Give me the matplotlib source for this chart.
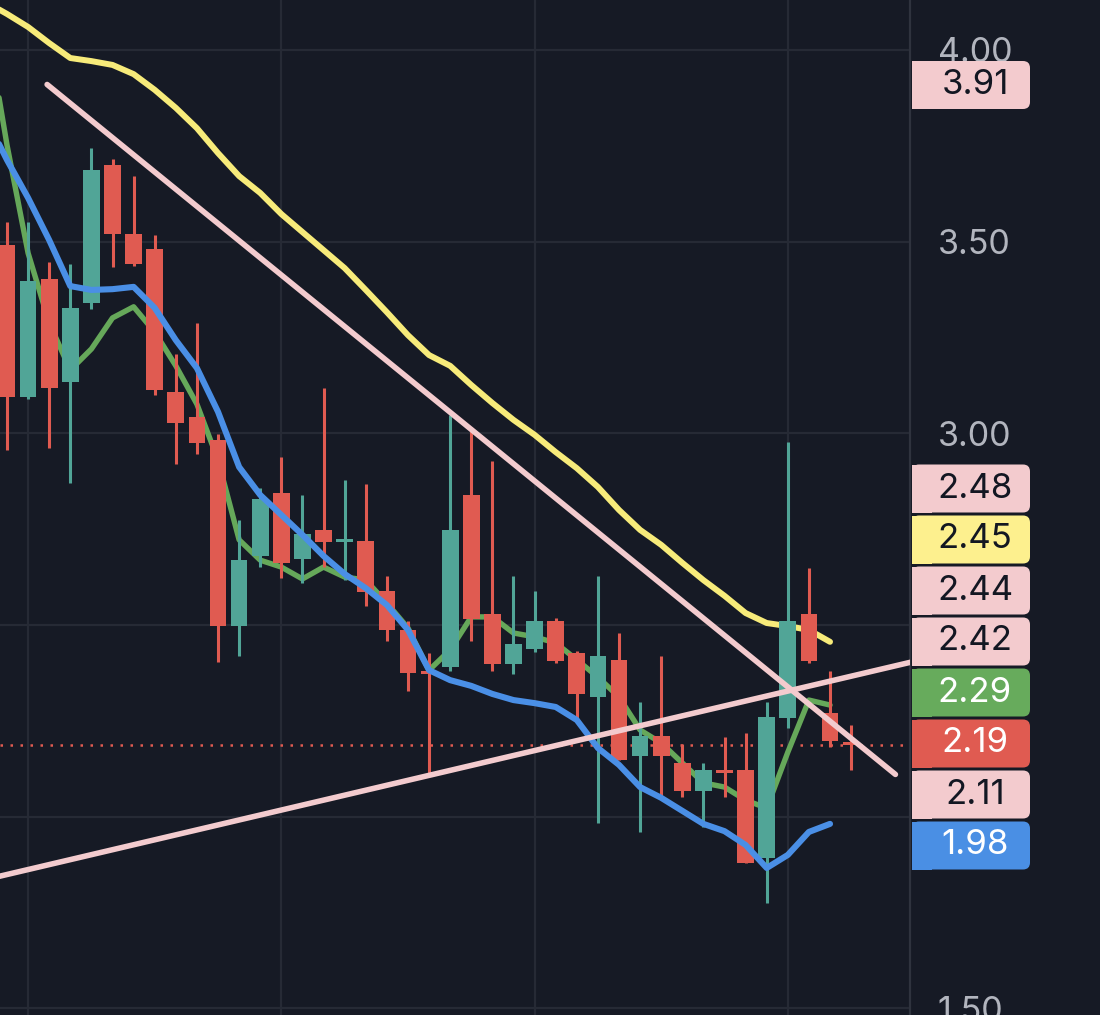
import matplotlib
matplotlib.use('Agg')
import matplotlib.pyplot as plt
from matplotlib.patches import FancyBboxPatch, Rectangle
import numpy as np

# Nến: mở, cao, thấp, đóng
o = [3.491, 3.095, 3.402, 3.134, 3.340, 3.700, 3.520, 3.481, 3.108, 3.042,
     2.983, 2.497, 2.680, 2.844, 2.672, 2.748, 2.716, 2.719, 2.589, 2.487,
     2.377, 2.390, 2.839, 2.529, 2.398, 2.437, 2.510, 2.427, 2.312, 2.408,
     2.158, 2.210, 2.140, 2.067, 2.119, 2.122, 1.892, 2.257, 2.529, 2.270,
     2.193]
h = [3.551, 3.551, 3.447, 3.442, 3.744, 3.716, 3.671, 3.517, 3.207, 3.288,
     2.998, 2.774, 2.857, 2.938, 2.839, 3.118, 2.878, 2.868, 2.628, 2.510,
     2.427, 3.048, 3.016, 2.928, 2.628, 2.589, 2.518, 2.432, 2.628, 2.479,
     2.299, 2.419, 2.189, 2.140, 2.208, 2.218, 2.299, 2.977, 2.649, 2.380,
     2.239]
l = [2.956, 3.089, 2.962, 2.870, 3.324, 3.434, 3.436, 3.100, 2.920, 2.946,
     2.403, 2.419, 2.651, 2.622, 2.609, 2.651, 2.617, 2.549, 2.458, 2.328,
     2.106, 2.380, 2.458, 2.380, 2.372, 2.429, 2.401, 2.255, 1.983, 2.148,
     1.960, 2.054, 2.051, 1.973, 2.051, 1.879, 1.775, 2.231, 2.401, 2.182,
     2.122]
c = [3.095, 3.397, 3.118, 3.327, 3.687, 3.520, 3.442, 3.113, 3.027, 2.975,
     2.497, 2.669, 2.829, 2.662, 2.737, 2.716, 2.722, 2.586, 2.487, 2.375,
     2.372, 2.748, 2.516, 2.398, 2.450, 2.510, 2.406, 2.320, 2.419, 2.148,
     2.210, 2.158, 2.067, 2.122, 2.114, 1.879, 2.260, 2.510, 2.406, 2.197,
     2.188]

# Các đường trung bình (từ nến -1 đến nến 39)
ma_vang = [4.125, 4.094, 4.060, 4.018, 3.979, 3.971, 3.961, 3.937, 3.896, 3.849,
           3.796, 3.731, 3.671, 3.627, 3.572, 3.525, 3.478, 3.431, 3.374, 3.316,
           3.256, 3.204, 3.176, 3.126, 3.079, 3.035, 2.996, 2.951, 2.909, 2.860,
           2.800, 2.748, 2.709, 2.662, 2.617, 2.576, 2.531, 2.505, 2.497, 2.487,
           2.456]
ma_xanh = [3.823, 3.713, 3.614, 3.504, 3.384, 3.374, 3.376, 3.382, 3.327, 3.243,
           3.170, 3.056, 2.912, 2.839, 2.787, 2.735, 2.680, 2.633, 2.596, 2.552,
           2.487, 2.382, 2.356, 2.341, 2.320, 2.304, 2.296, 2.286, 2.252, 2.179,
           2.135, 2.077, 2.049, 2.015, 1.981, 1.962, 1.926, 1.866, 1.900, 1.960,
           1.981]
ma_luc = [4.078, 3.752, 3.470, 3.288, 3.165, 3.220, 3.301, 3.330, 3.264, 3.176,
          3.076, 2.930, 2.722, 2.669, 2.651, 2.620, 2.651, 2.625, 2.617, 2.557,
          2.492, 2.382, 2.435, 2.521, 2.521, 2.479, 2.469, 2.453, 2.409, 2.364,
          2.312, 2.226, 2.192, 2.140, 2.088, 2.077, 2.043, 2.022, 2.168, 2.304,
          2.291]

# Đường xu hướng: (vị trí nến, giá)
xu_huong_giam = [(1.9, 3.91), (42.1, 2.11)]
xu_huong_tang = [(-1.0, 1.836), (44.0, 2.418)]

# Nhãn trục giá (2.50 và 2.00 bị nhãn màu che)
gia_truc = [1.5, 2.0, 2.5, 3.0, 3.5, 4.0]
nhan_truc = ['1.50', '', '', '3.00', '3.50', '4.00']

# Nhãn giá bên phải
nhan = ['3.91', '2.48', '2.45', '2.44', '2.42', '2.29', '2.19', '2.11', '1.98']
nhan_y = [85, 488.5, 539.5, 590.5, 641.5, 692.5, 743.5, 794.5, 845.5]

# Màu
nen = '#161a25'
luoi = '#262a35'
tang = '#51a597'
giam = '#e05b51'
vang = '#f7eb7a'
xanh = '#4a8fe6'
luc = '#66a85a'
hong = '#f3cbce'
nhan_nen = [hong, hong, '#fdf08e', hong, hong, '#67ab5c', '#e05b51', hong, '#4a8fe4']
nhan_chu = ['#131722'] * 5 + ['white', 'white', '#131722', 'white']

plt.rcParams['font.family'] = ['Inter', 'DejaVu Sans']

fig = plt.figure(figsize=(11, 10.15), dpi=100, facecolor=nen)
ax = fig.add_axes([0, 0, 910 / 1100, 1])
ax.set_facecolor(nen)

x = np.arange(len(o))
o = np.array(o); c = np.array(c); h = np.array(h); l = np.array(l)
mau = np.where(c >= o, tang, giam)

# Đường trung bình dưới nến
xm = np.arange(-1, len(ma_vang) - 1)
ax.plot(xm, ma_vang, color=vang, lw=4.3, zorder=2, solid_capstyle='round')
ax.plot(xm, ma_luc, color=luc, lw=3.9, zorder=2, solid_capstyle='round')

# Vẽ nến
ax.vlines(x, l, h, colors=mau, lw=2.2, zorder=3)
than = np.maximum(np.abs(c - o), 0.007)
ax.bar(x, than, bottom=np.minimum(o, c), width=0.79, color=mau, zorder=3)

ax.plot(xm, ma_xanh, color=xanh, lw=4.4, zorder=4, solid_capstyle='round')

# Đường xu hướng
ax.plot(*zip(*xu_huong_giam), color=hong, lw=4, zorder=5, solid_capstyle='round')
ax.plot(*zip(*xu_huong_tang), color=hong, lw=4, zorder=5)

# Đường giá hiện tại
ax.axhline(c[-1], color=giam, lw=1.8, ls=(0, (1, 3)), zorder=1)

ax.set_xlim(-0.332, 42.79)
ax.set_ylim(1.4824, 4.1304)

# Lưới
ax.set_xticks([1, 13, 25, 37])
ax.set_yticks(gia_truc)
ax.set_yticklabels(nhan_truc)
ax.grid(True, color=luoi, lw=1.6, zorder=0)
ax.set_axisbelow(True)
ax.yaxis.tick_right()
ax.tick_params(axis='x', length=0, labelbottom=False)
ax.tick_params(axis='y', length=0, pad=20, labelsize=24.5, labelcolor='#b2b5be')
for s in ['top', 'bottom', 'left']:
    ax.spines[s].set_visible(False)
ax.spines['right'].set_color('#2f333e')
ax.spines['right'].set_linewidth(1.6)

# Lớp phủ để vẽ nhãn theo pixel
ov = fig.add_axes([0, 0, 1, 1])
ov.set_xlim(0, 1100)
ov.set_ylim(1015, 0)
ov.axis('off')
ov.patch.set_visible(False)
for t, yc, bg, fg in zip(nhan, nhan_y, nhan_nen, nhan_chu):
    ov.add_patch(FancyBboxPatch((912, yc - 24), 118, 48,
                                boxstyle='round,pad=0,rounding_size=7',
                                fc=bg, ec='none'))
    ov.add_patch(Rectangle((912, yc - 24), 20, 48, fc=bg, ec='none'))
    ov.text(975, yc, t, color=fg, fontsize=25, ha='center', va='center')

fig.savefig('out.png', dpi=100, facecolor=nen)
